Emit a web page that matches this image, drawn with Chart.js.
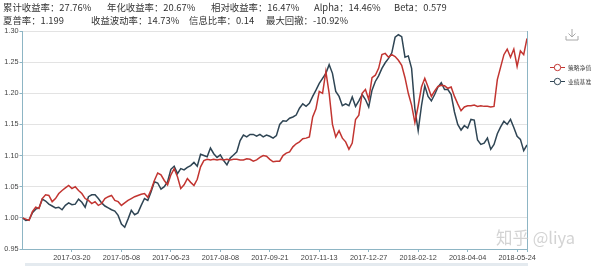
<!DOCTYPE html>
<html>
<head>
<meta charset="utf-8">
<script src="https://cdn.jsdelivr.net/npm/chart.js@4.4.1/dist/chart.umd.min.js"></script>
<style>
html,body{margin:0;padding:0;background:#fff;width:600px;height:266px;overflow:hidden;}
body{position:relative;font-family:"Noto Sans CJK SC","Microsoft YaHei",sans-serif;}
#c{position:absolute;left:0;top:0;width:600px;height:266px;}
.stat{position:absolute;font-size:9.4px;line-height:14px;height:14px;color:#333;white-space:nowrap;}
#band{position:absolute;left:25px;top:263px;width:503px;height:3px;background:#e4eaef;}
#wm{position:absolute;left:496px;top:227px;font-size:16.5px;line-height:20px;color:rgba(200,200,200,0.8);white-space:nowrap;}
#dl{position:absolute;left:564px;top:27px;}
</style>
</head>
<body>
<canvas id="c" width="600" height="266"></canvas>
<div id="band"></div>
<div id="wm">知乎 @liya</div>
<svg id="dl" width="16" height="16" viewBox="0 0 16 16">
  <path d="M8 2 L8 10 M4.5 6.5 L8 10 L11.5 6.5 M2 9 L2 13 L14 13 L14 9" fill="none" stroke="#a8a8a8" stroke-width="1"/>
</svg>
<script>
// ---- data ----
const seriesNames = ['策略净值', '业绩基准'];
const tickLabels = ['2017-03-20','2017-05-08','2017-06-23','2017-08-08','2017-09-21','2017-11-13','2017-12-27','2018-02-12','2018-04-04','2018-05-24'];
const tickStep = 15;
const statNames1 = ['累计收益率', '年化收益率', '相对收益率', 'Alpha', 'Beta'];
const statValues1 = ['27.76%', '20.67%', '16.47%', '14.46%', '0.579'];
const statNames2 = ['夏普率', '收益波动率', '信息比率', '最大回撤'];
const statValues2 = ['1.199', '14.73%', '0.14', '-10.92%'];

const strategy = [
 1.000,0.998,0.996,1.010,1.017,1.015,1.031,1.037,1.036,1.026,
 1.031,1.039,1.044,1.048,1.052,1.047,1.050,1.044,1.039,1.031,
 1.028,1.023,1.026,1.020,1.023,1.031,1.034,1.036,1.028,1.026,
 1.020,1.024,1.028,1.031,1.034,1.036,1.038,1.039,1.033,1.045,
 1.060,1.072,1.069,1.060,1.053,1.069,1.079,1.066,1.047,1.053,
 1.063,1.057,1.052,1.062,1.082,1.092,1.094,1.093,1.094,1.093,
 1.094,1.093,1.094,1.093,1.094,1.094,1.093,1.093,1.095,1.094,
 1.091,1.093,1.097,1.100,1.099,1.094,1.090,1.091,1.091,1.100,
 1.104,1.106,1.114,1.119,1.122,1.127,1.128,1.130,1.162,1.175,
 1.203,1.200,1.235,1.200,1.150,1.130,1.140,1.128,1.122,1.110,
 1.120,1.158,1.165,1.200,1.206,1.190,1.225,1.229,1.240,1.262,
 1.264,1.258,1.262,1.259,1.253,1.245,1.225,1.200,1.181,1.153,
 1.180,1.210,1.224,1.210,1.195,1.204,1.211,1.213,1.212,1.208,
 1.210,1.195,1.183,1.172,1.178,1.180,1.180,1.181,1.179,1.180,
 1.179,1.179,1.178,1.179,1.222,1.242,1.262,1.271,1.258,1.271,
 1.243,1.268,1.262,1.288
];
const benchmark = [
 1.000,0.996,0.997,1.008,1.014,1.016,1.030,1.027,1.022,1.019,
 1.016,1.017,1.013,1.020,1.024,1.021,1.022,1.030,1.025,1.017,
 1.034,1.037,1.037,1.031,1.024,1.019,1.016,1.013,1.011,1.004,
 0.990,0.985,0.998,1.012,1.005,1.008,1.020,1.031,1.028,1.042,
 1.058,1.056,1.046,1.050,1.058,1.078,1.083,1.071,1.079,1.077,
 1.081,1.084,1.089,1.083,1.102,1.100,1.098,1.112,1.103,1.097,
 1.101,1.092,1.085,1.096,1.101,1.106,1.124,1.133,1.130,1.134,
 1.134,1.131,1.134,1.130,1.133,1.131,1.128,1.132,1.150,1.156,
 1.155,1.160,1.162,1.165,1.176,1.183,1.179,1.184,1.195,1.205,
 1.216,1.224,1.232,1.246,1.232,1.203,1.195,1.180,1.183,1.180,
 1.194,1.179,1.188,1.198,1.190,1.178,1.205,1.219,1.228,1.240,
 1.249,1.256,1.265,1.290,1.294,1.291,1.258,1.260,1.240,1.175,
 1.140,1.180,1.212,1.195,1.188,1.198,1.210,1.217,1.206,1.206,
 1.198,1.170,1.150,1.141,1.148,1.144,1.158,1.157,1.125,1.118,
 1.120,1.128,1.110,1.118,1.135,1.146,1.155,1.150,1.158,1.145,
 1.131,1.126,1.108,1.117
];

// ---- header stats ----
const row1X = [3, 107, 211, 314, 394];
const row2X = [3, 91, 189, 266];
function addStats(names, values, xs, top) {
  names.forEach((n, i) => {
    const d = document.createElement('div');
    d.className = 'stat';
    d.style.left = xs[i] + 'px';
    d.style.top = top + 'px';
    d.textContent = n + '：' + values[i];
    document.body.appendChild(d);
  });
}
addStats(statNames1, statValues1, row1X, 0);
addStats(statNames2, statValues2, row2X, 13);

// ---- chart ----
const colors = ['#c23531', '#2f4554'];
const axisColor = '#8db5c4';

const extras = {
  id: 'extras',
  afterDraw(chart) {
    const ctx = chart.ctx, a = chart.chartArea;
    ctx.save();
    ctx.strokeStyle = axisColor;
    ctx.lineWidth = 1;
    ctx.beginPath();
    const rx = Math.round(a.right) + 0.5;
    ctx.moveTo(rx, a.top);
    ctx.lineTo(rx, a.bottom + 3);
    ctx.stroke();
    const rows = [67, 81];
    chart.data.datasets.forEach((ds, i) => {
      const y = rows[i];
      ctx.strokeStyle = ds.borderColor;
      ctx.lineWidth = 1;
      ctx.beginPath();
      ctx.moveTo(550, y + 0.5);
      ctx.lineTo(565, y + 0.5);
      ctx.stroke();
      ctx.fillStyle = '#fff';
      ctx.beginPath();
      ctx.arc(557.5, y + 0.5, 3.2, 0, Math.PI * 2);
      ctx.fill();
      ctx.stroke();
      ctx.fillStyle = '#444';
      ctx.font = '5.8px "Noto Sans CJK SC"';
      ctx.textBaseline = 'middle';
      ctx.textAlign = 'left';
      ctx.fillText(ds.label, 568, y + 0.5);
    });
    ctx.restore();
  }
};

new Chart(document.getElementById('c'), {
  type: 'line',
  data: {
    datasets: [
      { label: seriesNames[0], data: strategy.map((v, i) => ({ x: i, y: v })), borderColor: colors[0], backgroundColor: colors[0], borderWidth: 1.5, pointRadius: 0, tension: 0, fill: false },
      { label: seriesNames[1], data: benchmark.map((v, i) => ({ x: i, y: v })), borderColor: colors[1], backgroundColor: colors[1], borderWidth: 1.5, pointRadius: 0, tension: 0, fill: false }
    ]
  },
  options: {
    responsive: false,
    animation: false,
    layout: { padding: { top: 31, right: 73, left: 0, bottom: 0 } },
    plugins: { legend: { display: false }, tooltip: { enabled: false } },
    scales: {
      x: {
        type: 'linear',
        min: 0,
        max: strategy.length - 1,
        afterBuildTicks: s => { s.ticks = tickLabels.map((_, j) => ({ value: tickStep * (j + 1) })); },
        afterFit: s => { s.height = 17; },
        ticks: {
          autoSkip: false, maxRotation: 0, minRotation: 0, padding: 2,
          font: { size: 7.3, family: '"Liberation Sans", Arial, sans-serif' },
          color: '#444',
          callback: v => tickLabels[Math.round(v / tickStep) - 1] || ''
        },
        grid: { display: true, drawOnChartArea: false, drawTicks: true, tickLength: 3, color: axisColor },
        border: { display: true, color: axisColor }
      },
      y: {
        min: 0.95,
        max: 1.3,
        afterFit: s => { s.width = 22.5; },
        ticks: {
          stepSize: 0.05, padding: 1,
          font: { size: 7.3, family: '"Liberation Sans", Arial, sans-serif' },
          color: '#444'
        },
        grid: { color: '#e3e3e3', drawTicks: true, tickLength: 3, tickColor: axisColor },
        border: { display: true, color: axisColor }
      }
    }
  },
  plugins: [extras]
});
</script>
</body>
</html>
